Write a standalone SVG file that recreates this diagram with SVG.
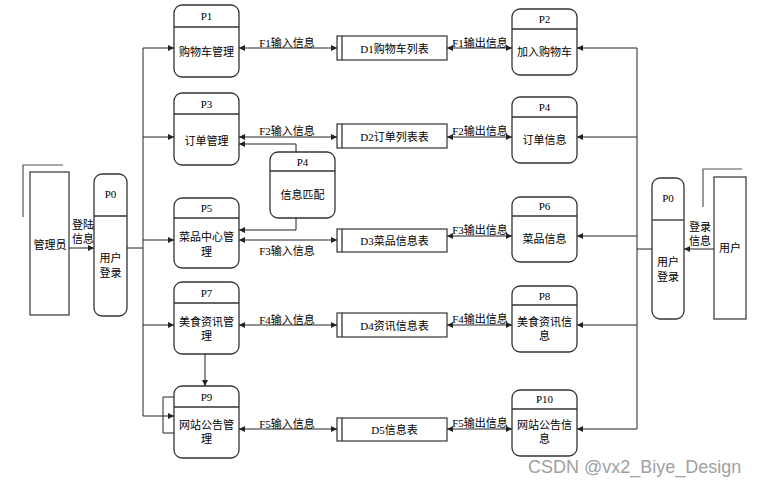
<svg xmlns="http://www.w3.org/2000/svg" width="760" height="486" viewBox="0 0 760 486">
<style>
.proc{fill:#fff;stroke:#333;stroke-width:1.3}
.div{stroke:#333;stroke-width:1.3;fill:none}
.store{fill:#fff;stroke:#333;stroke-width:1.2}
.ent{fill:#fff;stroke:#333;stroke-width:1.2}
.sh{fill:none;stroke:#555;stroke-width:1.2}
.ln{fill:none;stroke:#222;stroke-width:1}
.t{font-family:"Liberation Serif","Noto Sans CJK SC",serif;font-size:11px;fill:#000;text-anchor:middle;dominant-baseline:central}
.lbl{font-family:"Liberation Serif","Noto Sans CJK SC",serif;font-size:11px;fill:#000;text-anchor:middle}
.wm{font-family:"Liberation Sans","Noto Sans CJK SC",sans-serif;font-size:18px;fill:#a0a0a0}
</style>
<defs>
<marker id="ah" viewBox="0 0 10 10" refX="10" refY="5" markerWidth="7" markerHeight="6" markerUnits="userSpaceOnUse" orient="auto-start-reverse">
<path d="M0,0 L10,5 L0,10 z" fill="#222"/>
</marker>
</defs>

<g id="admin">
<path class="sh" d="M23,217 V165 H63"/>
<rect class="ent" x="30" y="172" width="39" height="143"/>
<text class="t" x="50" y="245">管理员</text>
</g>
<g id="P0-left">
<rect class="proc" x="94" y="174" width="33" height="142" rx="8"/>
<line class="div" x1="94" y1="216" x2="127" y2="216"/>
<text class="t" x="110.5" y="194">P0</text>
<text class="t" x="110.5" y="258">用户</text>
<text class="t" x="110.5" y="273">登录</text>
</g>
<g id="user">
<path class="sh" d="M703,207 V169 H742"/>
<rect class="ent" x="714" y="177" width="32" height="142"/>
<text class="t" x="730" y="248">用户</text>
</g>
<g id="P0-right">
<rect class="proc" x="652" y="178" width="32" height="141" rx="8"/>
<line class="div" x1="652" y1="220" x2="684" y2="220"/>
<text class="t" x="668" y="198">P0</text>
<text class="t" x="668" y="262">用户</text>
<text class="t" x="668" y="277">登录</text>
</g>

<g id="P1">
<rect class="proc" x="174" y="5" width="65" height="72" rx="8"/>
<line class="div" x1="174" y1="27" x2="239" y2="27"/>
<text class="t" x="206.5" y="16">P1</text>
<text class="t" x="206.5" y="52">购物车管理</text>
</g>
<g id="P3">
<rect class="proc" x="174" y="93" width="65" height="72" rx="8"/>
<line class="div" x1="174" y1="114" x2="239" y2="114"/>
<text class="t" x="206.5" y="104">P3</text>
<text class="t" x="206.5" y="141">订单管理</text>
</g>
<g id="P4-match">
<rect class="proc" x="270" y="152" width="65" height="66" rx="8"/>
<line class="div" x1="270" y1="171" x2="335" y2="171"/>
<text class="t" x="302.5" y="162">P4</text>
<text class="t" x="302.5" y="195">信息匹配</text>
</g>
<g id="P5">
<rect class="proc" x="174" y="198" width="65" height="70" rx="8"/>
<line class="div" x1="174" y1="218" x2="239" y2="218"/>
<text class="t" x="206.5" y="208">P5</text>
<text class="t" x="206.5" y="237">菜品中心管</text>
<text class="t" x="206.5" y="252">理</text>
</g>
<g id="P7">
<rect class="proc" x="174" y="282" width="65" height="72" rx="8"/>
<line class="div" x1="174" y1="303" x2="239" y2="303"/>
<text class="t" x="206.5" y="293">P7</text>
<text class="t" x="206.5" y="322">美食资讯管</text>
<text class="t" x="206.5" y="336">理</text>
</g>
<g id="P9">
<rect class="proc" x="174" y="386" width="65" height="72" rx="8"/>
<line class="div" x1="174" y1="407" x2="239" y2="407"/>
<text class="t" x="206.5" y="397">P9</text>
<text class="t" x="206.5" y="425">网站公告管</text>
<text class="t" x="206.5" y="439">理</text>
</g>

<g id="P2">
<rect class="proc" x="512" y="9" width="65" height="66" rx="8"/>
<line class="div" x1="512" y1="29" x2="577" y2="29"/>
<text class="t" x="544.5" y="19">P2</text>
<text class="t" x="544.5" y="52">加入购物车</text>
</g>
<g id="P4-order">
<rect class="proc" x="512" y="97" width="65" height="66" rx="8"/>
<line class="div" x1="512" y1="117" x2="577" y2="117"/>
<text class="t" x="544.5" y="107">P4</text>
<text class="t" x="544.5" y="140">订单信息</text>
</g>
<g id="P6">
<rect class="proc" x="512" y="197" width="65" height="65" rx="8"/>
<line class="div" x1="512" y1="216" x2="577" y2="216"/>
<text class="t" x="544.5" y="206">P6</text>
<text class="t" x="544.5" y="239">菜品信息</text>
</g>
<g id="P8">
<rect class="proc" x="512" y="286" width="65" height="66" rx="8"/>
<line class="div" x1="512" y1="305" x2="577" y2="305"/>
<text class="t" x="544.5" y="296">P8</text>
<text class="t" x="544.5" y="322">美食资讯信</text>
<text class="t" x="544.5" y="336">息</text>
</g>
<g id="P10">
<rect class="proc" x="512" y="390" width="65" height="66" rx="8"/>
<line class="div" x1="512" y1="409" x2="577" y2="409"/>
<text class="t" x="544.5" y="399">P10</text>
<text class="t" x="544.5" y="425">网站公告信</text>
<text class="t" x="544.5" y="439">息</text>
</g>

<g id="D1">
<rect class="store" x="337" y="36" width="110" height="24"/>
<line class="div" x1="342" y1="36" x2="342" y2="60"/>
<text class="t" x="394.5" y="48.5">D1购物车列表</text>
</g>
<g id="D2">
<rect class="store" x="337" y="124" width="110" height="24"/>
<line class="div" x1="342" y1="124" x2="342" y2="148"/>
<text class="t" x="394.5" y="136.5">D2订单列表表</text>
</g>
<g id="D3">
<rect class="store" x="337" y="229" width="110" height="23"/>
<line class="div" x1="342" y1="229" x2="342" y2="252"/>
<text class="t" x="394.5" y="240.5">D3菜品信息表</text>
</g>
<g id="D4">
<rect class="store" x="337" y="313" width="110" height="24"/>
<line class="div" x1="342" y1="313" x2="342" y2="337"/>
<text class="t" x="394.5" y="325.5">D4资讯信息表</text>
</g>
<g id="D5">
<rect class="store" x="337" y="418" width="110" height="23"/>
<line class="div" x1="342" y1="418" x2="342" y2="441"/>
<text class="t" x="394.5" y="429.5">D5信息表</text>
</g>

<g id="connectors">
<path class="ln" d="M69,248 H94" marker-end="url(#ah)"/>
<path class="ln" d="M127,248 H143 M143,48 V416"/>
<path class="ln" d="M143,48 H174" marker-end="url(#ah)"/>
<path class="ln" d="M143,137 H174" marker-end="url(#ah)"/>
<path class="ln" d="M143,240 H174" marker-end="url(#ah)"/>
<path class="ln" d="M143,325 H174" marker-end="url(#ah)"/>
<path class="ln" d="M143,416 H174" marker-end="url(#ah)"/>
<path class="ln" d="M174,397 H163 V433 H174"/>
<path class="ln" d="M205,354 V386" marker-end="url(#ah)"/>
<path class="ln" d="M296,152 V144 H239" marker-end="url(#ah)"/>
<path class="ln" d="M296,218 V230 H239" marker-end="url(#ah)"/>

<path class="ln" d="M239,48 H337" marker-start="url(#ah)" marker-end="url(#ah)"/>
<path class="ln" d="M239,137 H337" marker-start="url(#ah)" marker-end="url(#ah)"/>
<path class="ln" d="M239,240 H337" marker-start="url(#ah)" marker-end="url(#ah)"/>
<path class="ln" d="M239,325 H337" marker-start="url(#ah)" marker-end="url(#ah)"/>
<path class="ln" d="M239,429 H337" marker-start="url(#ah)" marker-end="url(#ah)"/>

<path class="ln" d="M447,48 H512" marker-start="url(#ah)" marker-end="url(#ah)"/>
<path class="ln" d="M447,137 H512" marker-start="url(#ah)" marker-end="url(#ah)"/>
<path class="ln" d="M447,236 H512" marker-start="url(#ah)" marker-end="url(#ah)"/>
<path class="ln" d="M447,325 H512" marker-start="url(#ah)" marker-end="url(#ah)"/>
<path class="ln" d="M447,429 H512" marker-start="url(#ah)" marker-end="url(#ah)"/>

<path class="ln" d="M637,48 V429 M637,249 H652"/>
<path class="ln" d="M637,48 H577" marker-end="url(#ah)"/>
<path class="ln" d="M637,137 H577" marker-end="url(#ah)"/>
<path class="ln" d="M637,236 H577" marker-end="url(#ah)"/>
<path class="ln" d="M637,325 H577" marker-end="url(#ah)"/>
<path class="ln" d="M637,429 H577" marker-end="url(#ah)"/>
<path class="ln" d="M714,249 H684" marker-end="url(#ah)"/>

<text class="t" x="83" y="225">登陆</text>
<text class="t" x="83" y="239">信息</text>
<text class="t" x="700" y="227">登录</text>
<text class="t" x="700" y="241">信息</text>
<text class="lbl" x="287" y="47">F1输入信息</text>
<text class="lbl" x="287" y="135">F2输入信息</text>
<text class="lbl" x="287" y="255">F3输入信息</text>
<text class="lbl" x="287" y="324">F4输入信息</text>
<text class="lbl" x="287" y="428">F5输入信息</text>
<text class="lbl" x="480" y="47">F1输出信息</text>
<text class="lbl" x="480" y="135">F2输出信息</text>
<text class="lbl" x="480" y="234">F3输出信息</text>
<text class="lbl" x="480" y="323">F4输出信息</text>
<text class="lbl" x="480" y="427">F5输出信息</text>
</g>
<text class="wm" x="528" y="473">CSDN @vx2_Biye_Design</text>
</svg>
